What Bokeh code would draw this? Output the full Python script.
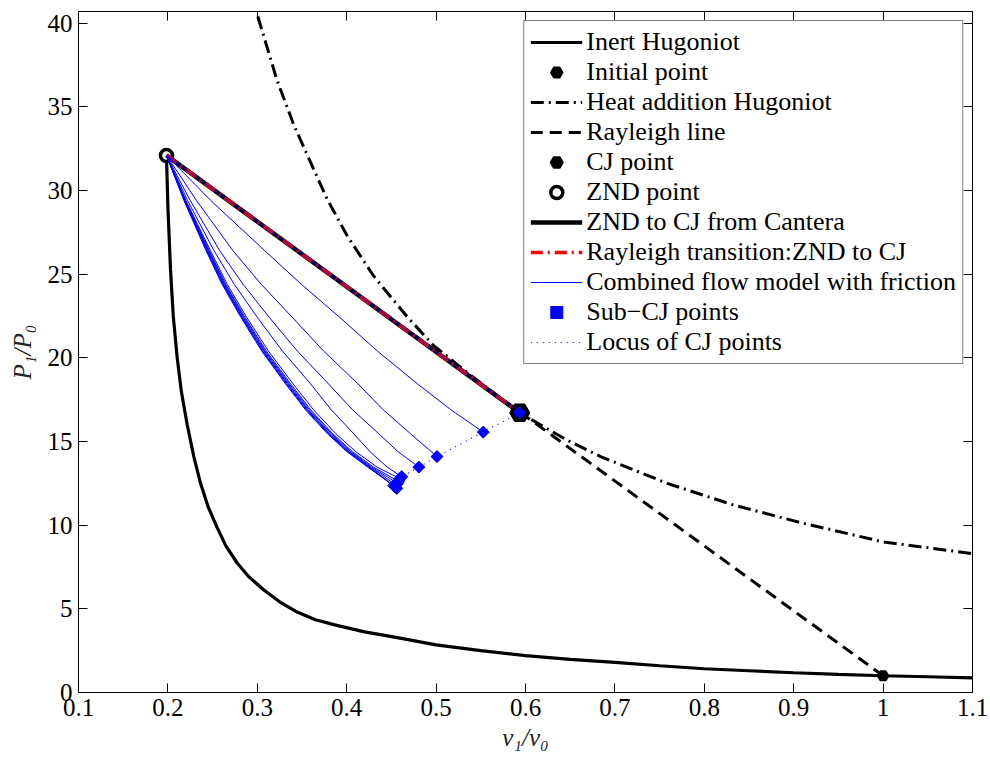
from bokeh.plotting import figure
from bokeh.models import Range1d, LinearAxis, FixedTicker, Legend, LegendItem
from bokeh.embed import file_html
from bokeh.resources import INLINE

# ---------------- data ----------------
inert_v = [0.1984, 0.2000, 0.2029, 0.2060, 0.2104, 0.2150, 0.2216, 0.2290, 0.2365, 0.2450,
           0.2550, 0.2650, 0.2775, 0.2900, 0.3070, 0.3250, 0.3446, 0.3650, 0.3890, 0.4200,
           0.4490, 0.5000, 0.5500, 0.6000, 0.6500, 0.7000, 0.7500, 0.8000, 0.8500, 0.9000,
           0.9500, 1.0000, 1.0500, 1.1000]
inert_p = [32.1, 29.0, 25.3, 22.5, 20.0, 18.0, 16.0, 14.1, 12.5, 11.1,
           9.87, 8.75, 7.74, 6.95, 6.14, 5.42, 4.81, 4.35, 4.01, 3.62,
           3.35, 2.85, 2.50, 2.20, 1.98, 1.80, 1.60, 1.42, 1.30, 1.18,
           1.08, 1.00, 0.94, 0.88]

heat_v = [0.3006, 0.3220, 0.3410, 0.3595, 0.3780, 0.4005, 0.4300, 0.4677, 0.4970,
          0.5400, 0.5935, 0.6466, 0.6840, 0.7585, 0.8330, 0.9080, 1.0000, 1.1000]
heat_p = [40.4, 36.6, 33.9, 31.7, 29.5, 27.3, 24.9, 22.45, 20.75,
          18.9, 16.72, 15.08, 14.1, 12.5, 11.2, 10.15, 9.0, 8.3]

initial_v = [1.0]
initial_p = [1.0]
cj_v = [0.5935]
cj_p = [16.72]
znd_v = [0.1984]
znd_p = [32.1]

rayleigh_v = [0.1984, 1.0]
rayleigh_p = [32.1, 1.0]

cantera_v = [0.1984, 0.5935]
cantera_p = [32.1, 16.72]

transition_v = [0.1984, 0.5935]
transition_p = [32.1, 16.72]

flow_v = [
    [0.1984, 0.5935],
    [0.1984, 0.2480, 0.3080, 0.3492, 0.3920, 0.4345, 0.4790, 0.5165, 0.5527],
    [0.1984, 0.2320, 0.2725, 0.3043, 0.3390, 0.3743, 0.4125, 0.4408, 0.4715, 0.5010],
    [0.1984, 0.2250, 0.2578, 0.2840, 0.3132, 0.3449, 0.3795, 0.4065, 0.4359, 0.4573, 0.4807],
    [0.1984, 0.2220, 0.2514, 0.2742, 0.2999, 0.3282, 0.3595, 0.3826, 0.4080, 0.4259, 0.4453, 0.4615],
    [0.1984, 0.2202, 0.2475, 0.2663, 0.2880, 0.3125, 0.3400, 0.3628, 0.3880, 0.4100, 0.4340, 0.4595],
    [0.1984, 0.2196, 0.2462, 0.2647, 0.2862, 0.3102, 0.3372, 0.3597, 0.3845, 0.4063, 0.4300, 0.4580],
    [0.1984, 0.2192, 0.2454, 0.2637, 0.2850, 0.3089, 0.3358, 0.3582, 0.3830, 0.4045, 0.4280, 0.4570],
    [0.1984, 0.2189, 0.2446, 0.2628, 0.2840, 0.3078, 0.3345, 0.3568, 0.3815, 0.4030, 0.4265, 0.4552],
    [0.1984, 0.2186, 0.2439, 0.2620, 0.2831, 0.3068, 0.3334, 0.3558, 0.3805, 0.4020, 0.4255, 0.4540],
    [0.1984, 0.2183, 0.2432, 0.2613, 0.2823, 0.3059, 0.3325, 0.3548, 0.3795, 0.4010, 0.4245, 0.4560],
    [0.1984, 0.2180, 0.2425, 0.2605, 0.2815, 0.3050, 0.3315, 0.3538, 0.3785, 0.4000, 0.4235, 0.4527],
]
flow_p = [
    [32.1, 16.72],
    [32.1, 29.4, 26.42, 24.4, 22.43, 20.4, 18.45, 16.9, 15.56],
    [32.1, 29.4, 26.42, 24.4, 22.43, 20.4, 18.45, 16.9, 15.46, 14.10],
    [32.1, 29.4, 26.42, 24.4, 22.43, 20.4, 18.45, 16.9, 15.46, 14.4, 13.47],
    [32.1, 29.4, 26.42, 24.4, 22.43, 20.4, 18.45, 16.9, 15.46, 14.4, 13.47, 12.90],
    [32.1, 29.4, 26.42, 24.4, 22.43, 20.4, 18.45, 16.9, 15.46, 14.4, 13.47, 12.78],
    [32.1, 29.4, 26.42, 24.4, 22.43, 20.4, 18.45, 16.9, 15.46, 14.4, 13.47, 12.62],
    [32.1, 29.4, 26.42, 24.4, 22.43, 20.4, 18.45, 16.9, 15.46, 14.4, 13.47, 12.50],
    [32.1, 29.4, 26.42, 24.4, 22.43, 20.4, 18.45, 16.9, 15.46, 14.4, 13.47, 12.40],
    [32.1, 29.4, 26.42, 24.4, 22.43, 20.4, 18.45, 16.9, 15.46, 14.4, 13.47, 12.30],
    [32.1, 29.4, 26.42, 24.4, 22.43, 20.4, 18.45, 16.9, 15.46, 14.4, 13.47, 12.20],
    [32.1, 29.4, 26.42, 24.4, 22.43, 20.4, 18.45, 16.9, 15.46, 14.4, 13.47, 12.37],
]

subcj_v = [0.5935, 0.5527, 0.5010, 0.4807, 0.4615, 0.4595, 0.4580, 0.4570, 0.4552, 0.4540, 0.4560, 0.4527]
subcj_p = [16.72, 15.56, 14.10, 13.47, 12.90, 12.78, 12.62, 12.50, 12.40, 12.30, 12.20, 12.37]

x_ticks = [0.1, 0.2, 0.3, 0.4, 0.5, 0.6, 0.7, 0.8, 0.9, 1.0, 1.1]
x_tick_labels = ["0.1", "0.2", "0.3", "0.4", "0.5", "0.6", "0.7", "0.8", "0.9", "1", "1.1"]
y_ticks = [0, 5, 10, 15, 20, 25, 30, 35, 40]
y_tick_labels = ["0", "5", "10", "15", "20", "25", "30", "35", "40"]

# ---------------- figure ----------------
FONT = "Liberation Serif"

p = figure(width=990, height=757, output_backend="svg", toolbar_location=None,
           x_range=Range1d(0.1, 1.1), y_range=Range1d(0, 40.7),
           min_border_left=78, min_border_right=18, min_border_top=11, min_border_bottom=65)
p.grid.visible = False
p.background_fill_color = "white"
p.border_fill_color = "white"
p.outline_line_color = "black"
p.outline_line_width = 1

def style_axis(ax, ticks, labels, show_labels=True):
    ax.ticker = FixedTicker(ticks=ticks)
    ax.minor_tick_line_color = None
    ax.major_tick_in = 9
    ax.major_tick_out = 0
    ax.axis_line_color = "black"
    ax.major_tick_line_color = "black"
    ax.major_label_text_font = FONT
    if show_labels:
        ax.major_label_overrides = {t: l for t, l in zip(ticks, labels)}
        ax.major_label_text_color = "black"
        ax.major_label_text_font_size = "25px"
        ax.major_label_standoff = 6
    else:
        ax.major_label_text_color = None
        ax.major_label_text_font_size = "1px"
        ax.major_label_standoff = 0

style_axis(p.xaxis[0], x_ticks, x_tick_labels)
style_axis(p.yaxis[0], y_ticks, y_tick_labels)
p.xaxis[0].axis_label = "v₁/v₀"
p.yaxis[0].axis_label = "P₁/P₀"
for ax in (p.xaxis[0], p.yaxis[0]):
    ax.axis_label_text_font = FONT
    ax.axis_label_text_font_style = "italic"
    ax.axis_label_text_font_size = "25px"
    ax.axis_label_text_color = "#222222"
p.xaxis[0].axis_label_standoff = 5
p.yaxis[0].axis_label_standoff = 9

top_ax = LinearAxis()
right_ax = LinearAxis()
style_axis(top_ax, x_ticks, x_tick_labels, show_labels=False)
style_axis(right_ax, y_ticks, y_tick_labels, show_labels=False)
p.add_layout(top_ax, "above")
p.add_layout(right_ax, "right")

# ---------------- glyphs ----------------
r_inert = p.line(inert_v, inert_p, line_color="black", line_width=3.2)
r_init = p.scatter(initial_v, initial_p, marker="hex", size=11, fill_color="black",
                   line_color="black", line_width=1.5)
r_heat = p.line(heat_v, heat_p, line_color="black", line_width=3, line_dash="13 5 2 5")
r_ray = p.line(rayleigh_v, rayleigh_p, line_color="black", line_width=3, line_dash="12 7")
r_cj = p.scatter(cj_v, cj_p, marker="hex", size=19, fill_color="black",
                 line_color="black", line_width=2)
r_znd = p.scatter(znd_v, znd_p, marker="circle", size=12, fill_color="white",
                  line_color="black", line_width=3.5)
r_cant = p.line(cantera_v, cantera_p, line_color="black", line_width=4.5)
r_trans = p.line(transition_v, transition_p, line_color="red", line_width=3.5,
                 line_dash="12 5 2 5")
r_flow = p.multi_line(flow_v, flow_p, line_color="blue", line_width=1)
r_sub = p.scatter(subcj_v, subcj_p, marker="square", size=8.5, angle=0.7854,
                  fill_color="blue", line_color="blue", line_width=1)
r_locus = p.line(subcj_v, subcj_p, line_color="blue", line_width=1.2, line_dash="1 5")

legend = Legend(items=[
    LegendItem(label="Inert Hugoniot", renderers=[r_inert]),
    LegendItem(label="Initial point", renderers=[r_init]),
    LegendItem(label="Heat addition Hugoniot", renderers=[r_heat]),
    LegendItem(label="Rayleigh line", renderers=[r_ray]),
    LegendItem(label="CJ point", renderers=[r_cj]),
    LegendItem(label="ZND point", renderers=[r_znd]),
    LegendItem(label="ZND to CJ from Cantera", renderers=[r_cant]),
    LegendItem(label="Rayleigh transition:ZND to CJ", renderers=[r_trans]),
    LegendItem(label="Combined flow model with friction", renderers=[r_flow]),
    LegendItem(label="Sub\u2212CJ points", renderers=[r_sub]),
    LegendItem(label="Locus of CJ points", renderers=[r_locus]),
], location="top_right")
legend.margin = 9
legend.padding = 6
legend.spacing = 0
legend.glyph_width = 52
legend.glyph_height = 30
legend.label_height = 30
legend.label_standoff = 4
legend.label_text_font = FONT
legend.label_text_font_size = "26px"
legend.label_text_color = "black"
legend.border_line_color = "black"
legend.border_line_width = 1.5
legend.background_fill_color = "white"
legend.background_fill_alpha = 1.0
p.add_layout(legend)

open("out.html", "w").write(file_html(p, INLINE))
